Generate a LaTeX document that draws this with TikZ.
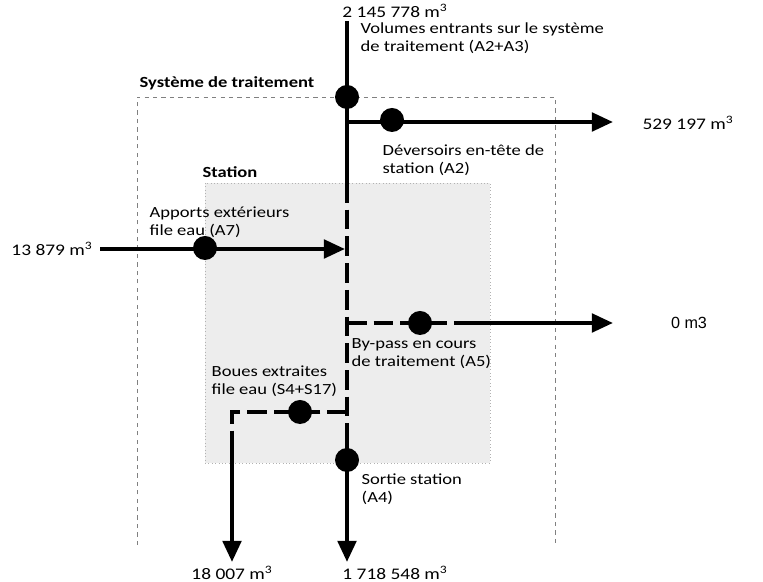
\documentclass[tikz,border=0pt]{standalone}
\usepackage{fontspec}
\setmainfont[FakeStretch=1.2]{Carlito}
\newfontfamily\arialfont{Liberation Sans}
\usetikzlibrary{arrows.meta,positioning}
\tikzstyle{pipe} = [draw, line width=3pt]
\tikzstyle{flow} = [pipe, -{Triangle[length=15pt, width=13pt]}]
\tikzstyle{bypass} = [pipe, dash pattern=on 14pt off 5pt]
\tikzstyle{point} = [circle, fill=black, minimum size=0.6cm, inner sep=0pt]
\tikzstyle{note} = [font=\fontsize{11}{12.8}\selectfont, align=left, anchor=west, inner sep=1pt]
\tikzstyle{volume} = [font=\fontsize{11.5}{13}\selectfont, inner sep=1pt]
\tikzstyle{zone} = [font=\bfseries\fontsize{11}{13}\selectfont, inner sep=1pt]

\begin{document}
\begin{tikzpicture}[x=0.025cm, y=-0.025cm]
            \useasboundingbox (0,0) rectangle (763,582);

            % limits
            \draw[gray, dashed, thin] (137,545) -- (137,97) -- (555,97) -- (555,545);
            \fill[gray!14] (205,183) rectangle (490,463);
            \draw[gray!60, dotted] (205,183) rectangle (490,463);
            \node[zone] (systeme) at (227,83) {Système de traitement};
            \node[zone] (station) at (230,172) {Station};

            % main line
            \coordinate (in) at (347,21);
            \coordinate (st_in) at (347,183);
            \coordinate (st_out) at (347,437);
            \coordinate (out) at (347,562);
            \path[pipe] (in) -- (st_in);
            \path[bypass] (st_in) -- (st_out);
            \path[flow] (st_out) -- (out);

            % deversoirs
            \coordinate (dev_in) at (347,122);
            \coordinate (dev_out) at (613,122);
            \path[flow] (dev_in) -- (dev_out);

            % apports exterieurs
            \coordinate (ext_in) at (100,249);
            \coordinate (ext_out) at (345,249);
            \path[flow] (ext_in) -- (ext_out);

            % by-pass
            \coordinate (bp_in) at (347,323);
            \coordinate (bp_mid) at (470,323);
            \coordinate (bp_out) at (613,323);
            \path[bypass] (bp_in) -- (bp_mid);
            \path[flow] (bp_mid) -- (bp_out);

            % boues
            \coordinate (bou_in) at (347,412);
            \coordinate (bou_turn) at (232,412);
            \coordinate (bou_mid) at (232,440);
            \coordinate (bou_out) at (232,562);
            \path[bypass] (bou_in) -- (bou_turn) -- (bou_mid);
            \path[flow] (bou_mid) -- (bou_out);

            % measure points
            \node[point] (a23) at (347,97) {};
            \node[point] (a2) at (392,120) {};
            \node[point] (a7) at (205,248) {};
            \node[point] (a5) at (420,323) {};
            \node[point] (s4) at (300,412) {};
            \node[point] (a4) at (347,460) {};

            % texts
            \node[volume] (v_in) at (395,11) {2 145 778 m\textsuperscript{3}};
            \node[note] (t_a23) at (359,38) {Volumes entrants sur le système\\de traitement (A2+A3)};
            \node[volume] (v_dev) at (688,123) {529 197 m\textsuperscript{3}};
            \node[note] (t_a2) at (381,160) {Déversoirs en-tête de\\station (A2)};
            \node[note] (t_a7) at (148,222) {Apports extérieurs\\file eau (A7)};
            \node[volume] (v_ext) at (52,249) {13 879 m\textsuperscript{3}};
            \node[volume, font=\arialfont\fontsize{11.5}{13}\selectfont] (v_bp) at (689,323) {0 m3};
            \node[note] (t_a5) at (350,354) {By-pass en cours\\de traitement (A5)};
            \node[note] (t_s4) at (210,381) {Boues extraites\\file eau (S4+S17)};
            \node[note] (t_a4) at (360,489) {Sortie station\\(A4)};
            \node[volume, anchor=south] (v_bou) at (232,581) {18 007 m\textsuperscript{3}};
            \node[volume, anchor=south] (v_out) at (395,581) {1 718 548 m\textsuperscript{3}};
\end{tikzpicture}
\end{document}
